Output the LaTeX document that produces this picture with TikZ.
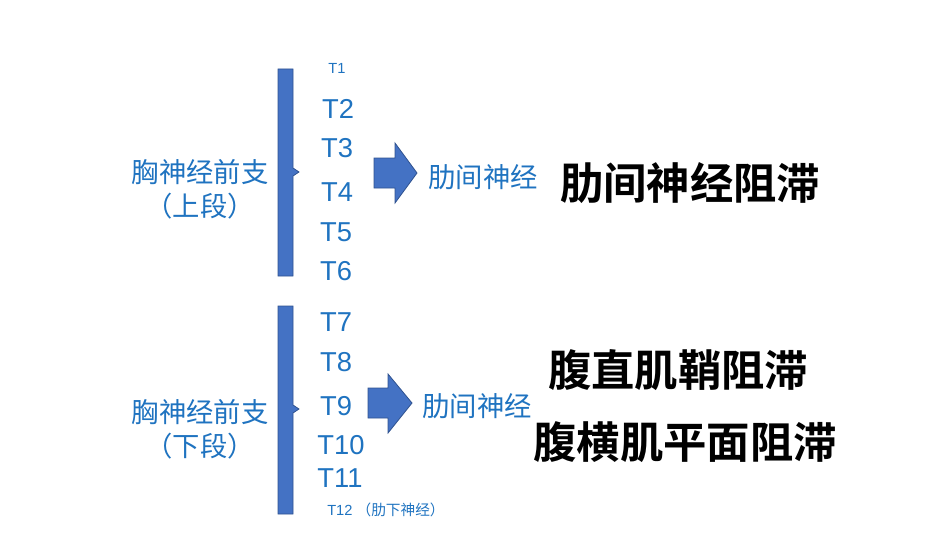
\documentclass[tikz,border=0pt]{standalone}
\usepackage{fontspec}
\setmainfont{Liberation Sans}
\newfontfamily\cjk{Noto Sans CJK SC}
\newfontfamily\cjkb{Noto Sans CJK SC Bold}
\definecolor{tb}{HTML}{1F73C0}
\definecolor{barc}{HTML}{4472C4}
\definecolor{bard}{HTML}{2F528F}
\begin{document}
\begin{tikzpicture}[x=0.75pt,y=-0.75pt,
  tl/.style={text=tb,font=\fontsize{20.5}{22}\selectfont,inner sep=0},
  cl/.style={text=tb,font=\cjk\fontsize{20.5}{22}\selectfont,inner sep=0},
  big/.style={text=black,font=\cjkb\fontsize{32.5}{34}\selectfont,inner sep=0},
  bluefill/.style={fill=barc,draw=bard,line width=0.6pt}]
\useasboundingbox (0,0) rectangle (950,535);
% bars
\draw[bluefill] (278,69) -- (293,69) -- (293,168) -- (299,172) -- (293,176) -- (293,276) -- (278,276) -- cycle;
\draw[bluefill] (278,306) -- (293,306) -- (293,405) -- (299,409) -- (293,413) -- (293,514) -- (278,514) -- cycle;
% big arrows
\draw[bluefill] (374,158) -- (395,158) -- (395,143) -- (417,173) -- (395,203) -- (395,188) -- (374,188) -- cycle;
\draw[bluefill] (368,388) -- (388,388) -- (388,374) -- (412,403) -- (388,433) -- (388,418) -- (368,418) -- cycle;
% left labels
\node[cl] (u1) at (200,172) {胸神经前支};
\node[cl] (u2) at (200,206) {（上段）};
\node[cl] (l1) at (200,412) {胸神经前支};
\node[cl] (l2) at (200,446) {（下段）};
% middle labels
\node[cl] (m1) at (483,177) {肋间神经};
\node[cl] (m2) at (477,406) {肋间神经};
% T labels
\node[tl,font=\fontsize{11}{12}\selectfont] (t1) at (337,68) {T1};
\node[tl] (t2) at (338,109) {T2};
\node[tl] (t3) at (337,148) {T3};
\node[tl] (t4) at (337,192) {T4};
\node[tl] (t5) at (336,232) {T5};
\node[tl] (t6) at (336,271) {T6};
\node[tl] (t7) at (336,322) {T7};
\node[tl] (t8) at (336,362) {T8};
\node[tl] (t9) at (336,406) {T9};
\node[tl] (t10) at (341,445) {T10};
\node[tl] (t11) at (340,478) {T11};
\node[tl,font=\fontsize{11}{12}\selectfont,anchor=west] (t12) at (327,510) {T12 {\cjk （肋下神经）}};
% right labels
\node[big] (r1) at (690,183) {肋间神经阻滞};
\node[big] (r2) at (678,370) {腹直肌鞘阻滞};
\node[big] (r3) at (685,442) {腹横肌平面阻滞};
\end{tikzpicture}
\end{document}
